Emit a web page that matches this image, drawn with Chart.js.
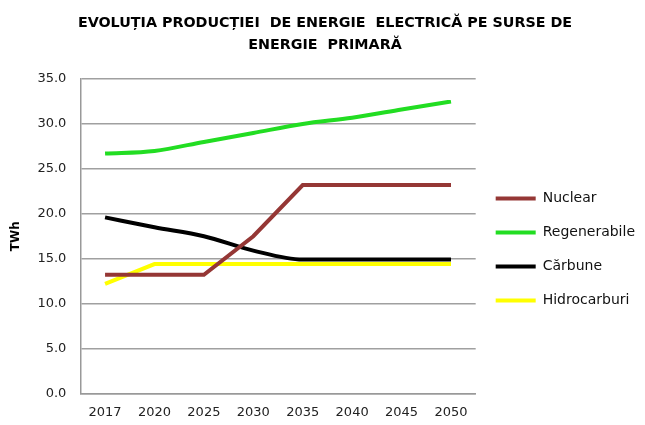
<!DOCTYPE html>
<html>
<head>
<meta charset="utf-8">
<script src="https://cdn.jsdelivr.net/npm/chart.js@4.4.1/dist/chart.umd.min.js"></script>
<style>
  html, body { margin: 0; padding: 0; background: #fff; }
  #wrap { width: 645px; height: 425px; }
</style>
</head>
<body>
<div id="wrap"><canvas id="energy-chart"></canvas></div>
<script>
// Categories and series (TWh)
var years = ["2017", "2020", "2025", "2030", "2035", "2040", "2045", "2050"];
var nuclear = [13.2, 13.2, 13.2, 17.5, 23.2, 23.2, 23.2, 23.2];
var regenerabile = [26.7, 27.0, 28.0, 29.0, 30.0, 30.7, 31.6, 32.5];
var carbune = [19.6, 18.5, 17.5, 15.9, 14.9, 14.9, 14.9, 14.9];
var hidrocarburi = [12.2, 14.4, 14.4, 14.4, 14.4, 14.4, 14.4, 14.4];

var titleLines = ["EVOLUȚIA PRODUCȚIEI  DE ENERGIE  ELECTRICĂ PE SURSE DE", "ENERGIE  PRIMARĂ"];

function BuildSeries(label, values, color, smooth) {
    return {
        label: label,
        data: values,
        borderColor: color,
        backgroundColor: color,
        borderWidth: 4,
        pointRadius: 0,
        tension: smooth ? 0.4 : 0,
        cubicInterpolationMode: smooth ? 'monotone' : 'default',
        fill: false
    };
}

window.onload = function () {
    var ctx = document.getElementById("energy-chart").getContext('2d');
    var font = "'DejaVu Sans', sans-serif";
    var myChart = new Chart(ctx, {
        type: 'line',
        data: {
            labels: years,
            datasets: [
                BuildSeries("Nuclear", nuclear, '#953735', false),
                BuildSeries("Regenerabile", regenerabile, '#22dd22', true),
                BuildSeries("Cărbune", carbune, '#000000', true),
                BuildSeries("Hidrocarburi", hidrocarburi, '#ffff00', false)
            ]
        },
        options: {
            responsive: true,
            maintainAspectRatio: false,
            animation: false,
            layout: { padding: { left: 5, right: 0, top: 4, bottom: -6 } },
            plugins: {
                title: {
                    display: true,
                    text: titleLines,
                    color: '#000',
                    font: { family: font, size: 14.3, weight: 'bold', lineHeight: 1.54 },
                    padding: { top: 8, bottom: 23 }
                },
                legend: {
                    position: 'right',
                    align: 'center',
                    fullSize: false,
                    maxWidth: 172,
                    title: { display: true, text: ' ', padding: 6, font: { size: 12 } },
                    labels: {
                        boxWidth: 40,
                        boxHeight: 4,
                        padding: 20,
                        color: '#111',
                        font: { family: font, size: 14 },
                        generateLabels: function (chart) {
                            var items = Chart.defaults.plugins.legend.labels.generateLabels(chart);
                            items.forEach(function (it) { it.lineWidth = 0; });
                            return items;
                        }
                    }
                },
                tooltip: { enabled: false }
            },
            scales: {
                x: {
                    offset: true,
                    grid: { display: false, drawTicks: false },
                    border: { color: '#999', width: 1.5 },
                    ticks: { color: '#222', padding: 11, font: { family: font, size: 13 } }
                },
                y: {
                    min: 0,
                    max: 35,
                    grid: { color: '#a0a0a0', lineWidth: 1.5, drawTicks: false },
                    border: { color: '#999', width: 1.5 },
                    ticks: {
                        stepSize: 5,
                        color: '#222',
                        padding: 14,
                        font: { family: font, size: 13 },
                        callback: function (v) { return v.toFixed(1); }
                    },
                    title: {
                        display: true,
                        text: 'TWh',
                        color: '#000',
                        font: { family: font, size: 12, weight: 'bold' },
                        padding: { top: 4, bottom: 0 }
                    }
                }
            }
        }
    });
    return myChart;
};
</script>
</body>
</html>
